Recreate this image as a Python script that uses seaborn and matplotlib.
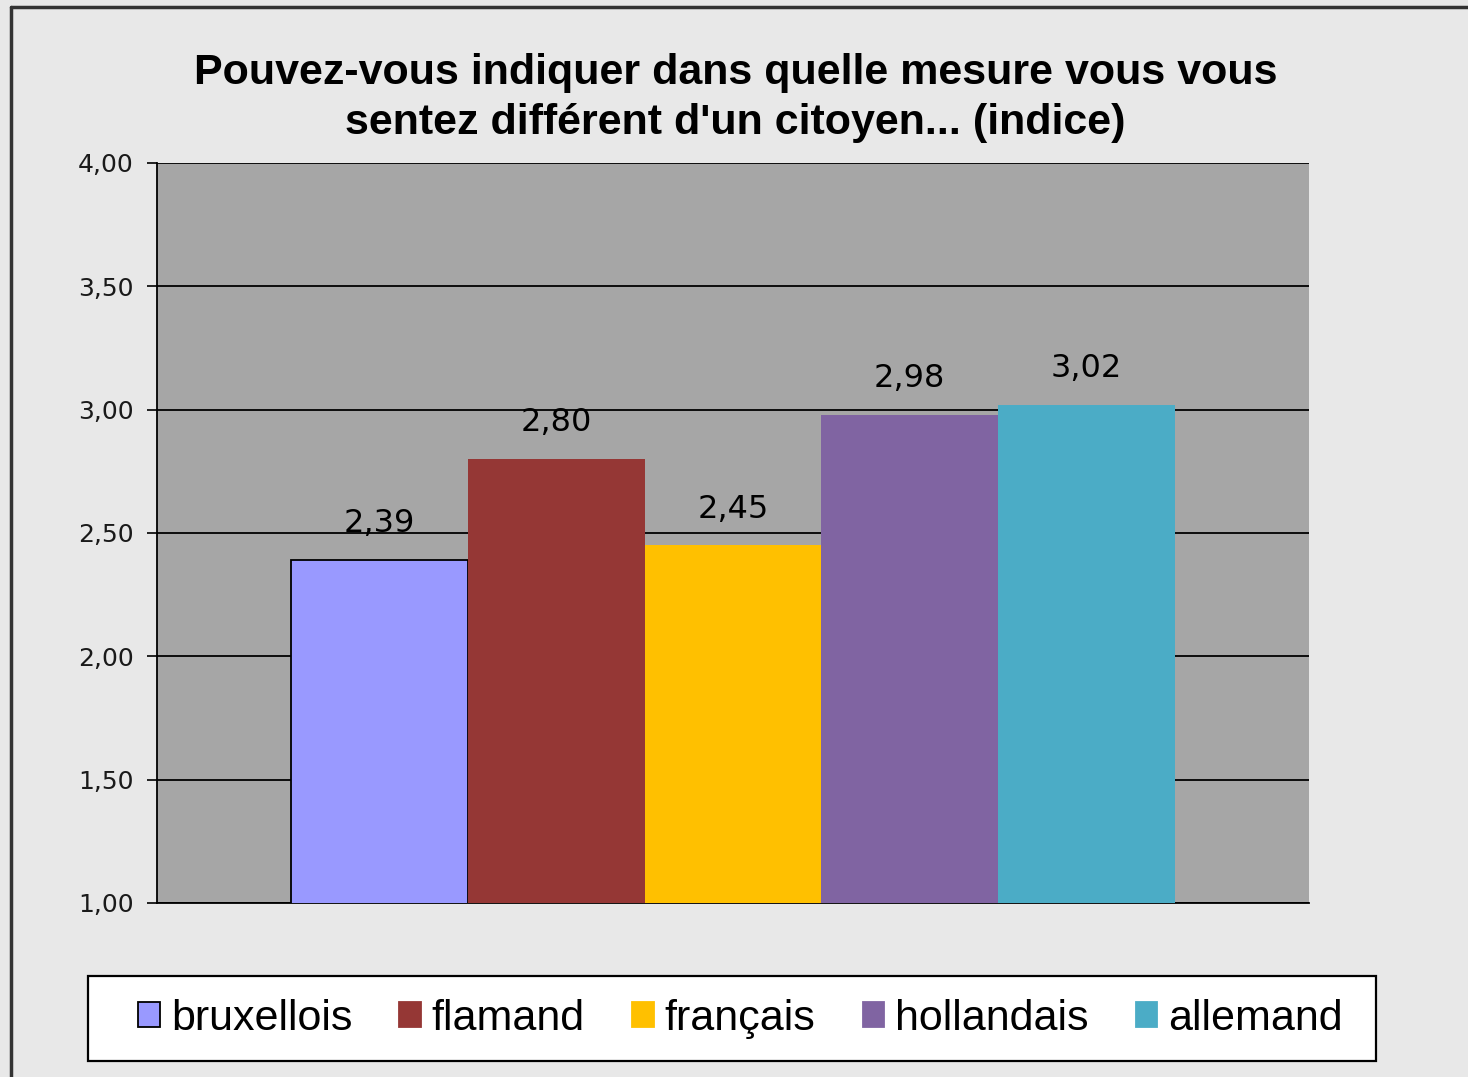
import seaborn as sns
import matplotlib.pyplot as plt
import matplotlib.lines as mlines
import pandas as pd

groups = ["bruxellois", "flamand", "français", "hollandais", "allemand"]
values = [2.39, 2.80, 2.45, 2.98, 3.02]
labels = ["2,39", "2,80", "2,45", "2,98", "3,02"]
colors = ["#9999FF", "#953735", "#FFC000", "#8064A2", "#4BACC6"]
yticks = [1.0, 1.5, 2.0, 2.5, 3.0, 3.5, 4.0]
ytick_labels = ["1,00", "1,50", "2,00", "2,50", "3,00", "3,50", "4,00"]
title = "Pouvez-vous indiquer dans quelle mesure vous vous\nsentez différent d'un citoyen... (indice)"

sns.set_theme(style="white")
plt.rcParams["font.family"] = ["Liberation Sans", "DejaVu Sans"]
plt.rcParams["text.color"] = "black"

df = pd.DataFrame({"cat": ["x"] * len(groups), "groupe": groups, "valeur": values})

fig = plt.figure(figsize=(14.68, 10.77), dpi=100)
fig.patch.set_facecolor("#E8E8E8")
ax = fig.add_axes([0.107, 0.1616, 0.7847, 0.6871])
ax.set_facecolor("#A6A6A6")

sns.barplot(data=df, x="cat", y="valeur", hue="groupe", palette=colors,
            width=0.767, gap=0, saturation=1, ax=ax, legend=False, zorder=3)

ax.set_ylim(1, 4)
ax.set_xlim(-0.5, 0.5)
ax.set_yticks(yticks)
ax.set_yticklabels(ytick_labels, fontsize=18, color="#1a1a1a", family="DejaVu Sans")
ax.set_xticks([])
ax.set_xlabel("")
ax.set_ylabel("")
ax.yaxis.grid(True, color="black", linewidth=1.3, zorder=0)
ax.set_axisbelow(True)
ax.tick_params(axis="y", left=True, length=7, width=1.2, color="black", pad=10)
for s in ["top", "right"]:
    ax.spines[s].set_visible(False)
for s in ["left", "bottom"]:
    ax.spines[s].set_color("black")
    ax.spines[s].set_linewidth(1.3)

for i, cont in enumerate(ax.containers):
    bar = cont.patches[0]
    bar.set_linewidth(0)
    if i == 0:
        bar.set_edgecolor("black")
        bar.set_linewidth(1.3)
    ax.annotate(labels[i], (bar.get_x() + bar.get_width() / 2, bar.get_height()),
                xytext=(0, 26), textcoords="offset points", ha="center", va="center",
                fontsize=23, color="black", family="DejaVu Sans")

fig.text(0.501, 0.909, title, ha="center", va="center", fontsize=31,
         fontweight="bold", linespacing=1.32, color="black")

# legend frame box
fig.add_artist(plt.Rectangle((0.0599, 0.0149), 0.8774, 0.0789, transform=fig.transFigure,
                             facecolor="white", edgecolor="black", linewidth=1.6, zorder=1))

handles = [plt.Rectangle((0, 0), 1, 1, facecolor=c,
                         edgecolor="black" if i == 0 else c, linewidth=1.3)
           for i, c in enumerate(colors)]
leg = fig.legend(handles, groups, loc="center", bbox_to_anchor=(0.5045, 0.0543),
                 ncol=5, fontsize=31, frameon=False,
                 handlelength=0.5, handleheight=0.5, handletextpad=0.25,
                 columnspacing=1.1, borderpad=0.3, borderaxespad=0)
leg.set_zorder(2)

# outer chart border
fig.add_artist(mlines.Line2D([0.0075, 0.0075], [0, 0.9935], color="#333333", lw=2.5))
fig.add_artist(mlines.Line2D([0.0075, 1], [0.9935, 0.9935], color="#333333", lw=2.5))

fig.savefig("out.png", dpi=100, facecolor=fig.get_facecolor())
